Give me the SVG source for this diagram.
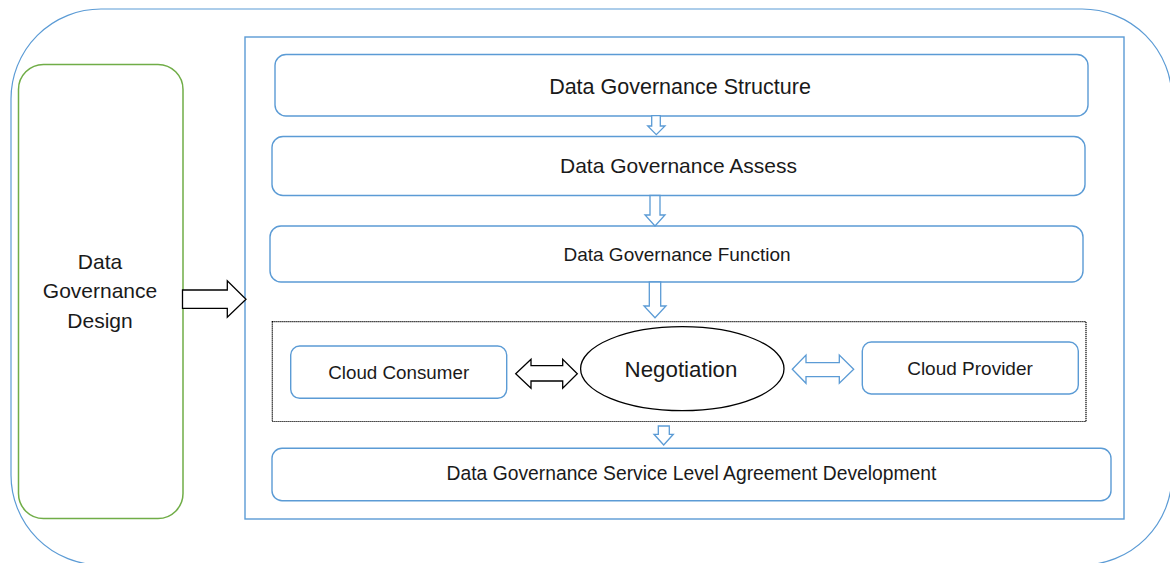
<svg xmlns="http://www.w3.org/2000/svg" width="1170" height="563" viewBox="0 0 1170 563">
<style>
.blue{fill:#fff;stroke:#5B9BD5;stroke-width:1.4}
.green{fill:#fff;stroke:#70AD47;stroke-width:1.5}
.blk{fill:#fff;stroke:#000;stroke-width:1.3}
.ar{fill:#fff;stroke:#5B9BD5;stroke-width:1.3;stroke-linejoin:miter}
.arb{fill:#fff;stroke:#000;stroke-width:1.3;stroke-linejoin:miter}
text{font-family:"Liberation Sans",Arial,sans-serif;fill:#1a1a1a;text-anchor:middle}
</style>
<rect width="1170" height="563" fill="#fff"/>
<g id="outer"><rect x="11" y="9" width="1161" height="556" rx="90" ry="90" fill="none" stroke="#5B9BD5" stroke-width="1.2"/></g>
<g id="design">
<rect class="green" x="18.5" y="64.5" width="164.5" height="454" rx="25" ry="25"/>
<text x="100" y="269" font-size="21">Data</text>
<text x="100" y="298.3" font-size="21">Governance</text>
<text x="100" y="327.7" font-size="21">Design</text>
</g>
<g id="container"><rect x="245" y="37" width="879" height="482" fill="none" stroke="#5B9BD5" stroke-width="1.4"/></g>
<g id="structure">
<rect class="blue" x="275" y="54.5" width="813" height="61.5" rx="11"/>
<text x="680" y="94" font-size="21.5">Data Governance Structure</text>
</g>
<g id="assess">
<rect class="blue" x="272" y="136.5" width="813" height="59" rx="11"/>
<text x="678.5" y="173.3" font-size="21">Data Governance Assess</text>
</g>
<g id="function">
<rect class="blue" x="270" y="226" width="813" height="56" rx="11"/>
<text x="677" y="260.7" font-size="19">Data Governance Function</text>
</g>
<g id="negotiation-group">
<rect x="272.3" y="321.7" width="813.7" height="99.8" fill="none" stroke="#000" stroke-width="1.2" stroke-dasharray="1.2 0.8"/>
</g>
<g id="consumer">
<rect class="blue" x="290.7" y="346" width="216" height="52.3" rx="9"/>
<text x="398.7" y="379" font-size="18.8">Cloud Consumer</text>
</g>
<g id="negotiation">
<ellipse class="blk" cx="682.3" cy="368.7" rx="101.7" ry="42"/>
<text x="681" y="376.7" font-size="22.3">Negotiation</text>
</g>
<g id="provider">
<rect class="blue" x="862.3" y="342" width="216" height="52" rx="9"/>
<text x="970" y="375" font-size="19">Cloud Provider</text>
</g>
<g id="sla">
<rect class="blue" x="272" y="448.3" width="839" height="52.4" rx="10"/>
<text x="691.5" y="480" font-size="19.3">Data Governance Service Level Agreement Development</text>
</g>
<g id="connectors">
<polygon class="arb" points="182.5,290 227.3,290 227.3,280.7 246,299.3 227.3,317.3 227.3,308.3 182.5,308.3"/>
<polygon class="ar" points="651.7,115.7 660.3,115.7 660.3,126 665,126 656.3,134.7 647.7,126 651.7,126"/>
<polygon class="ar" points="650,195.5 660,195.5 660,215 665,215 655,226 645,215 650,215"/>
<polygon class="ar" points="649.3,282 660.7,282 660.7,306 666,306 655,317.7 644,306 649.3,306"/>
<polygon class="ar" points="658.3,426 669.3,426 669.3,434.3 673.3,434.3 663.7,445 654,434.3 658.3,434.3"/>
<polygon class="arb" points="515.7,373.8 531,359.3 531,365.7 562.7,365.7 562.7,359.3 577.3,373.8 562.7,388.3 562.7,381 531,381 531,388.3"/>
<polygon class="ar" points="792.3,369.2 806,355 806,362.7 839.3,362.7 839.3,355 853.7,369.2 839.3,383.3 839.3,376.7 806,376.7 806,383.3"/>
</g>
</svg>
